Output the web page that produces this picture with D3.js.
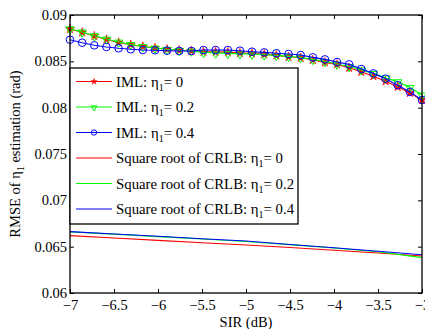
<!DOCTYPE html>
<html>
<head>
<meta charset="utf-8">
<script src="https://cdn.jsdelivr.net/npm/d3@7"></script>
<style>
  html, body { margin: 0; padding: 0; background: #fff; }
  svg { display: block; }
  svg text { font-family: "Liberation Serif", "Times New Roman", serif; fill: #000; }
</style>
</head>
<body>
<svg id="chart" width="425" height="329"></svg>
<script>
// SIR grid (dB) for the IML simulations: 30 points from -7 to -3
const sirIML = [-7, -6.862, -6.724, -6.586, -6.448, -6.310, -6.172, -6.034, -5.897, -5.759,
  -5.621, -5.483, -5.345, -5.207, -5.069, -4.931, -4.793, -4.655, -4.517, -4.379,
  -4.241, -4.103, -3.966, -3.828, -3.690, -3.552, -3.414, -3.276, -3.138, -3];

// RMSE of the IML estimator
const imlEta0 = [0.08849, 0.08813, 0.08773, 0.08736, 0.08703, 0.08680, 0.08660, 0.08644, 0.08630, 0.08619,
  0.08612, 0.08602, 0.08602, 0.08599, 0.08591, 0.08585, 0.08575, 0.08564, 0.08549, 0.08538,
  0.08514, 0.08489, 0.08467, 0.08430, 0.08387, 0.08340, 0.08286, 0.08225, 0.08160, 0.08083];
const imlEta2 = [0.08852, 0.08817, 0.08777, 0.08741, 0.08709, 0.08682, 0.08660, 0.08644, 0.08630, 0.08619,
  0.08612, 0.08597, 0.08591, 0.08586, 0.08582, 0.08578, 0.08571, 0.08564, 0.08553, 0.08542,
  0.08521, 0.08499, 0.08472, 0.08445, 0.08408, 0.08370, 0.08321, 0.08281, 0.08220, 0.08137];
const imlEta4 = [0.08733, 0.08701, 0.08673, 0.08655, 0.08641, 0.08630, 0.08622, 0.08619, 0.08615, 0.08612,
  0.08612, 0.08622, 0.08622, 0.08622, 0.08615, 0.08604, 0.08597, 0.08587, 0.08579, 0.08568,
  0.08543, 0.08521, 0.08492, 0.08467, 0.08417, 0.08370, 0.08313, 0.08242, 0.08170, 0.08083];

// SIR grid (dB) for the square-root CRLB curves
const sirCRLB = [-7, -6.5, -6, -5.5, -5, -4.5, -4, -3.5, -3];
const crlbEta0 = [0.06619, 0.06594, 0.06568, 0.06543, 0.06518, 0.06491, 0.06461, 0.06431, 0.06400];
const crlbEta2 = [0.06660, 0.06635, 0.06608, 0.06582, 0.06556, 0.06522, 0.06486, 0.06445, 0.06382];
const crlbEta4 = [0.06662, 0.06637, 0.06612, 0.06586, 0.06561, 0.06524, 0.06488, 0.06450, 0.06412];

const xTicks = [-7, -6.5, -6, -5.5, -5, -4.5, -4, -3.5, -3];
const yTicks = [0.06, 0.065, 0.07, 0.075, 0.08, 0.085, 0.09];

const plotLeft = 70, plotRight = 422, plotTop = 15, plotBottom = 293;
const serif = "'Liberation Serif', 'Times New Roman', serif";
const svg = d3.select("#chart");
const x = d3.scaleLinear().domain([-7, -3]).range([plotLeft, plotRight]);
const y = d3.scaleLinear().domain([0.06, 0.09]).range([plotBottom, plotTop]);

const series = [
  { values: imlEta0, sir: sirIML, color: "#ff0000", marker: "star", label: "IML: η", tail: "= 0" },
  { values: imlEta2, sir: sirIML, color: "#00ff00", marker: "tri", label: "IML: η", tail: "= 0.2" },
  { values: imlEta4, sir: sirIML, color: "#0000ff", marker: "circle", label: "IML: η", tail: "= 0.4" },
  { values: crlbEta0, sir: sirCRLB, color: "#ff0000", marker: null, label: "Square root of CRLB: η", tail: "= 0" },
  { values: crlbEta2, sir: sirCRLB, color: "#00ff00", marker: null, label: "Square root of CRLB: η", tail: "= 0.2" },
  { values: crlbEta4, sir: sirCRLB, color: "#0000ff", marker: null, label: "Square root of CRLB: η", tail: "= 0.4" }
];

const starPath = d3.symbol().type(d3.symbolStar).size(26)();
const triPath = d3.symbol().type(d3.symbolTriangle).size(30)();

function drawMarker(g, kind, color, cx, cy, k) {
  if (kind === "star") {
    g.append("path").attr("d", starPath).attr("transform", `translate(${cx},${cy}) scale(${k})`)
      .attr("fill", color).attr("stroke", color).attr("stroke-width", 0.5);
  } else if (kind === "tri") {
    g.append("path").attr("d", triPath).attr("transform", `translate(${cx},${cy + 0.5}) rotate(180) scale(${k})`)
      .attr("fill", "none").attr("stroke", color).attr("stroke-width", 1 / k);
  } else if (kind === "circle") {
    g.append("circle").attr("cx", cx).attr("cy", cy).attr("r", 3.8 * k)
      .attr("fill", "none").attr("stroke", color).attr("stroke-width", 1);
  }
}

const plot = svg.append("g");
const line = d3.line();
series.forEach(s => {
  const pts = s.sir.map((v, i) => [x(v), y(s.values[i])]);
  plot.append("path").attr("d", line(pts)).attr("fill", "none")
    .attr("stroke", s.color).attr("stroke-width", 1.1);
  if (s.marker) pts.forEach(p => drawMarker(plot, s.marker, s.color, p[0], p[1], 1));
});

// axes box with inward ticks
const axes = svg.append("g");
const tickLen = 4;
axes.append("g").attr("transform", `translate(0,${plotBottom})`)
  .call(d3.axisBottom(x).tickValues(xTicks).tickSize(-tickLen).tickPadding(7).tickFormat(d3.format("")))
  .call(g => g.select(".domain").remove());
axes.append("g").attr("transform", `translate(0,${plotTop})`)
  .call(d3.axisTop(x).tickValues(xTicks).tickSize(-tickLen).tickFormat(""))
  .call(g => g.select(".domain").remove());
axes.append("g").attr("transform", `translate(${plotLeft},0)`)
  .call(d3.axisLeft(y).tickValues(yTicks).tickSize(-tickLen).tickPadding(3).tickFormat(d3.format("")))
  .call(g => g.select(".domain").remove());
axes.append("g").attr("transform", `translate(${plotRight},0)`)
  .call(d3.axisRight(y).tickValues(yTicks).tickSize(-tickLen).tickFormat(""))
  .call(g => g.select(".domain").remove());
axes.selectAll("g").attr("font-family", serif);
axes.selectAll(".tick line").attr("stroke", "#000");
axes.selectAll(".tick text").attr("fill", "#000").attr("font-family", serif).attr("font-size", 14.5);
axes.append("rect").attr("x", plotLeft).attr("y", plotTop)
  .attr("width", plotRight - plotLeft).attr("height", plotBottom - plotTop)
  .attr("fill", "none").attr("stroke", "#000").attr("stroke-width", 1.3);

// axis titles
svg.append("text").attr("x", 246).attr("y", 327).attr("text-anchor", "middle")
  .attr("font-family", serif).attr("font-size", 14.5).text("SIR (dB)");
const yt = svg.append("text").attr("transform", `translate(20,${(plotTop + plotBottom) / 2}) rotate(-90)`)
  .attr("text-anchor", "middle").attr("font-family", serif).attr("font-size", 14.5);
yt.append("tspan").text("RMSE of η");
yt.append("tspan").attr("dy", 4).attr("font-size", 10).text("1");
yt.append("tspan").attr("dy", -4).text(" estimation (rad)");

// legend
const lg = svg.append("g");
lg.append("rect").attr("x", 70).attr("y", 68).attr("width", 228).attr("height", 156)
  .attr("fill", "#fff").attr("stroke", "#000").attr("stroke-width", 1.3);
series.forEach((s, i) => {
  const ly = 81.5 + i * 25.5;
  lg.append("line").attr("x1", 76).attr("x2", 112).attr("y1", ly).attr("y2", ly)
    .attr("stroke", s.color).attr("stroke-width", 1.1);
  if (s.marker) drawMarker(lg, s.marker, s.color, 94, ly, 0.7);
  const t = lg.append("text").attr("x", 116).attr("y", ly + 5)
    .attr("font-family", serif).attr("font-size", 14.8);
  t.append("tspan").text(s.label);
  t.append("tspan").attr("dy", 4).attr("font-size", 10).text("1");
  t.append("tspan").attr("dy", -4).text(s.tail);
});
</script>
</body>
</html>
